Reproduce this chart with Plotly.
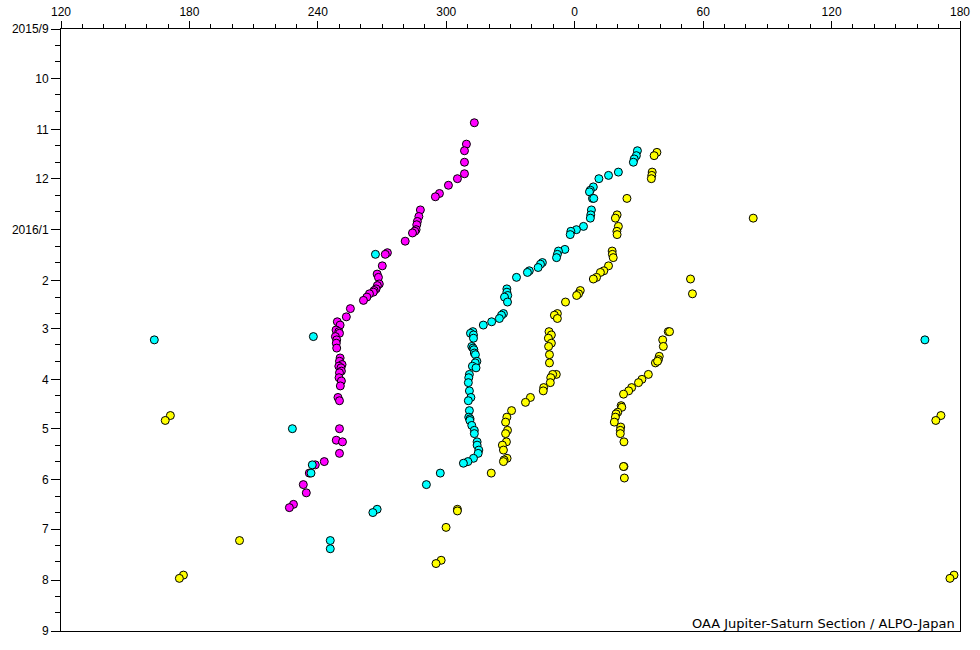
import plotly.graph_objects as go

# ---------------- data (System II longitude in degrees, observation date) ----------------
magenta_lon = [313.1, 309.4, 308.5, 308.5, 308.5, 305.2, 301.0, 296.8, 294.9, 287.9,
               287.2, 286.5, 286.2, 285.9, 285.3, 284.2, 280.8, 272.5, 271.5, 270.1,
               267.7, 268.3, 268.7, 267.8, 267.2, 266.3, 265.9, 264.1, 262.9, 261.3,
               255.2, 253.3, 249.1, 250.4, 248.5, 249.8, 250.1, 248.2, 248.8, 248.6,
               248.8, 250.4, 250.1, 251.3, 249.8, 250.8, 251.0, 250.1, 249.9, 251.0,
               250.5, 249.4, 250.1, 250.1, 248.6, 251.5, 250.1, 243.0, 238.8, 236.0,
               233.2, 234.6, 228.6, 226.7]
magenta_date = ["2015-10-28", "2015-11-10", "2015-11-14", "2015-11-21", "2015-11-28",
                "2015-12-01", "2015-12-05", "2015-12-10", "2015-12-12", "2015-12-20",
                "2015-12-24", "2015-12-27", "2015-12-29", "2016-01-01", "2016-01-02",
                "2016-01-03", "2016-01-08", "2016-01-15", "2016-01-16", "2016-01-23",
                "2016-01-28", "2016-01-30", "2016-02-03", "2016-02-04", "2016-02-06",
                "2016-02-07", "2016-02-08", "2016-02-09", "2016-02-11", "2016-02-13",
                "2016-02-18", "2016-02-23", "2016-02-26", "2016-02-28", "2016-03-02",
                "2016-03-03", "2016-03-04", "2016-03-06", "2016-03-08", "2016-03-10",
                "2016-03-13", "2016-03-19", "2016-03-21", "2016-03-23", "2016-03-24",
                "2016-03-25", "2016-03-27", "2016-03-28", "2016-03-31", "2016-04-02",
                "2016-04-05", "2016-04-12", "2016-04-14", "2016-05-01", "2016-05-08",
                "2016-05-09", "2016-05-16", "2016-05-21", "2016-05-23", "2016-05-28",
                "2016-06-04", "2016-06-09", "2016-06-16", "2016-06-18"]

cyan_lon = [163.6, 237.9, 266.9, 228.1, 237.4, 236.8, 267.7, 265.7, 245.8, 245.8,
            297.2, 290.7,
            29.3, 28.8, 27.8, 27.4, 20.4, 15.8, 11.3, 8.7, 7.3, 6.9,
            8.3, 8.9, 7.8, 7.5, 7.3, 4.1, 0.8, 358.2, 357.9, 355.4,
            352.4, 351.9, 351.5, 344.9, 344.0, 342.9, 338.8, 337.9, 332.8, 328.3,
            328.3, 328.7, 327.2, 328.6, 326.7, 325.8, 324.8, 321.2, 317.3, 312.4,
            311.3, 312.7, 312.7, 311.9, 312.5, 312.9, 313.1, 313.6, 314.3, 313.5,
            312.2, 313.9, 310.8, 310.5, 310.3, 310.8, 311.5, 310.3, 310.8, 310.5,
            311.1, 311.0, 311.9, 313.1, 313.1, 314.4, 314.4, 315.2, 314.9, 312.7,
            310.1, 308.0]
cyan_date = ["2016-03-08", "2016-03-06", "2016-01-16", "2016-05-01", "2016-05-23",
             "2016-05-28", "2016-06-19", "2016-06-21", "2016-07-08", "2016-07-13",
             "2016-05-28", "2016-06-04",
             "2015-11-14", "2015-11-17", "2015-11-19", "2015-11-21", "2015-11-27",
             "2015-11-29", "2015-12-01", "2015-12-06", "2015-12-08", "2015-12-09",
             "2015-12-13", "2015-12-13", "2015-12-20", "2015-12-23", "2015-12-25",
             "2015-12-30", "2016-01-01", "2016-01-02", "2016-01-04", "2016-01-13",
             "2016-01-14", "2016-01-16", "2016-01-18", "2016-01-21", "2016-01-22",
             "2016-01-24", "2016-01-26", "2016-01-27", "2016-01-30", "2016-02-06",
             "2016-02-08", "2016-02-10", "2016-02-11", "2016-02-14", "2016-02-21",
             "2016-02-22", "2016-02-24", "2016-02-26", "2016-02-28", "2016-03-03",
             "2016-03-04", "2016-03-05", "2016-03-07", "2016-03-12", "2016-03-13",
             "2016-03-14", "2016-03-16", "2016-03-17", "2016-03-21", "2016-03-22",
             "2016-03-24", "2016-03-25", "2016-03-29", "2016-03-31", "2016-04-03",
             "2016-04-08", "2016-04-12", "2016-04-14", "2016-04-20", "2016-04-24",
             "2016-04-25", "2016-04-26", "2016-04-29", "2016-05-02", "2016-05-04",
             "2016-05-09", "2016-05-11", "2016-05-14", "2016-05-16", "2016-05-19",
             "2016-05-21", "2016-05-22"]

yellow_lon = [38.4, 37.1, 36.2, 36.0, 35.8, 24.4, 19.8, 19.0, 20.4, 19.7,
              19.8, 17.5, 17.6, 18.0, 15.8, 13.6, 12.0, 10.2, 8.7, 2.6,
              1.8, 0.9, 355.7, 351.9, 350.5, 351.9, 348.0, 349.1, 347.7, 349.1,
              347.8, 348.2, 348.2, 351.4, 349.7, 348.8, 348.6, 345.5, 345.3, 339.3,
              337.0, 330.5, 328.3, 327.7, 328.6, 327.7, 328.1, 326.2, 326.7, 328.4,
              327.0, 326.7, 321.0, 305.2, 305.2, 299.9, 297.6, 295.2, 203.4, 171.1,
              168.7, 177.2, 175.3,
              83.4, 54.1, 55.0, 43.7, 44.3, 41.1, 41.4, 39.5, 39.1, 37.7,
              38.7, 34.4, 31.4, 29.8, 26.6, 25.2, 22.8, 21.7, 22.0, 20.1,
              19.3, 19.0, 18.5, 21.5, 21.3, 21.3, 23.0, 23.0, 22.8, 23.2]
yellow_date = ["2015-11-15", "2015-11-17", "2015-11-27", "2015-11-29", "2015-12-01",
               "2015-12-13", "2015-12-23", "2015-12-25", "2015-12-30", "2016-01-02",
               "2016-01-04", "2016-01-14", "2016-01-16", "2016-01-18", "2016-01-23",
               "2016-01-26", "2016-01-27", "2016-01-30", "2016-01-31", "2016-02-07",
               "2016-02-09", "2016-02-10", "2016-02-14", "2016-02-21", "2016-02-22",
               "2016-02-24", "2016-03-03", "2016-03-05", "2016-03-07", "2016-03-10",
               "2016-03-12", "2016-03-17", "2016-03-22", "2016-03-29", "2016-03-29",
               "2016-03-31", "2016-04-03", "2016-04-06", "2016-04-08", "2016-04-12",
               "2016-04-15", "2016-04-20", "2016-04-24", "2016-04-27", "2016-05-02",
               "2016-05-04", "2016-05-09", "2016-05-11", "2016-05-14", "2016-05-19",
               "2016-05-20", "2016-05-21", "2016-05-28", "2016-06-19", "2016-06-20",
               "2016-06-30", "2016-07-20", "2016-07-22", "2016-07-08", "2016-04-23",
               "2016-04-26", "2016-07-29", "2016-07-31",
               "2015-12-25", "2016-01-31", "2016-02-09", "2016-03-03", "2016-03-03",
               "2016-03-08", "2016-03-12", "2016-03-18", "2016-03-20", "2016-03-22",
               "2016-03-21", "2016-03-29", "2016-04-01", "2016-04-03", "2016-04-06",
               "2016-04-08", "2016-04-10", "2016-04-17", "2016-04-18", "2016-04-21",
               "2016-04-22", "2016-04-24", "2016-04-27", "2016-04-30", "2016-05-02",
               "2016-05-04", "2016-05-09", "2016-05-24", "2016-05-24", "2016-05-31"]

x_tick_values = [120, 180, 240, 300, 360, 420, 480, 540]
x_tick_labels = ["120", "180", "240", "300", "0", "60", "120", "180"]
y_tick_values = ["2015-09-01", "2015-10-01", "2015-11-01", "2015-12-01", "2016-01-01",
                 "2016-02-01", "2016-03-01", "2016-04-01", "2016-05-01", "2016-06-01",
                 "2016-07-01", "2016-08-01", "2016-09-01"]
y_tick_labels = ["2015/9", "10", "11", "12", "2016/1", "2", "3", "4", "5", "6", "7", "8", "9"]

X_MIN, X_MAX = 120, 540


def unwrap(lons, dates):
    """Map longitudes onto the 120..540 axis; 120-180 appear at both ends."""
    xs, ys = [], []
    for lon, d in zip(lons, dates):
        v = lon if lon >= X_MIN else lon + 360
        xs.append(v)
        ys.append(d)
        if v + 360 <= X_MAX:
            xs.append(v + 360)
            ys.append(d)
    return xs, ys


fig = go.Figure()
for lons, dates, color in [(magenta_lon, magenta_date, "#FF00FF"),
                           (cyan_lon, cyan_date, "#00FFFF"),
                           (yellow_lon, yellow_date, "#FFFF00")]:
    xs, ys = unwrap(lons, dates)
    fig.add_trace(go.Scatter(
        x=xs, y=ys, mode="markers",
        marker=dict(size=8, color=color, line=dict(color="black", width=1)),
        showlegend=False, cliponaxis=False))

# minor ticks on the 11th and 21st of each month
minor_y = []
for d in y_tick_values[:-1]:
    minor_y += [d[:8] + "11", d[:8] + "21"]

tick_font = dict(family="Liberation Sans Narrow, Arial Narrow, sans-serif", size=12, color="black")

fig.update_layout(
    width=980, height=650,
    margin=dict(l=61, r=20, t=29, b=19),
    paper_bgcolor="white", plot_bgcolor="white",
    xaxis=dict(
        side="top", range=[X_MIN, X_MAX], tickmode="array", automargin=False,
        tickvals=x_tick_values, ticktext=x_tick_labels,
        ticks="outside", ticklen=7, tickwidth=1, tickcolor="black",
        minor=dict(dtick=10, tick0=120, ticks="outside", ticklen=4, tickcolor="black", showgrid=False),
        showline=True, linecolor="black", linewidth=1, mirror=True,
        showgrid=False, zeroline=False, tickfont=tick_font,
    ),
    yaxis=dict(
        type="date", range=["2016-09-01", "2015-09-01"], tickmode="array", automargin=False,
        tickvals=y_tick_values, ticktext=y_tick_labels,
        ticks="outside", ticklen=9, tickwidth=1, tickcolor="black",
        minor=dict(tickmode="array", tickvals=minor_y, ticks="outside", ticklen=5,
                   tickcolor="black", showgrid=False),
        showline=True, linecolor="black", linewidth=1, mirror=True,
        showgrid=False, zeroline=False, tickfont=tick_font,
    ),
    annotations=[dict(
        text="OAA Jupiter-Saturn Section / ALPO-Japan", xref="paper", yref="paper",
        x=1, y=0, xanchor="right", yanchor="bottom", xshift=-3, yshift=-2,
        showarrow=False, font=dict(family="DejaVu Sans", size=13, color="black"),
    )],
)

fig.write_html("out.html", config={"displayModeBar": False},
               post_script="document.body.style.margin='0';document.body.style.overflow='hidden';")
